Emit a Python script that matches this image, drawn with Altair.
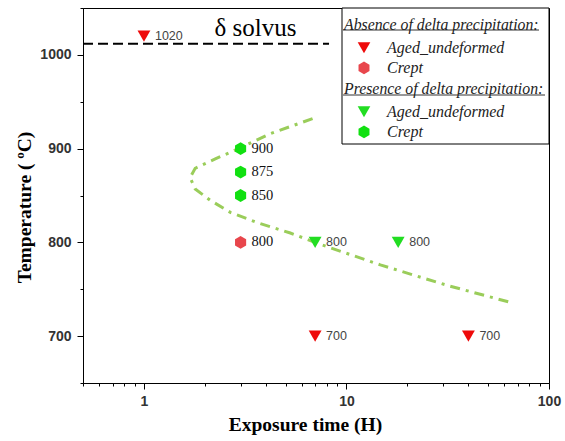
import altair as alt
import pandas as pd

# ---------------- data ----------------
types = ["Aged_undeformed", "Crept"]

# Absence of delta precipitation
abs_type = ["Aged_undeformed", "Aged_undeformed", "Aged_undeformed", "Crept"]
abs_time = [1, 7, 40, 3]
abs_temp = [1020, 700, 700, 800]

# Presence of delta precipitation
pre_type = ["Aged_undeformed", "Aged_undeformed", "Crept", "Crept", "Crept"]
pre_time = [7, 18, 3, 3, 3]
pre_temp = [800, 800, 900, 875, 850]

# C-curve (dash-dot green)
curve_time = [6.8, 4.2, 3.0, 2.25, 1.79, 1.69, 1.79, 2.12, 2.67, 3.63, 5.28, 7.18, 14.7, 31.6, 67]
curve_temp = [932, 916, 901, 889, 879, 869, 857, 845, 832, 821, 810, 799, 776, 754, 735]

# delta solvus line
solvus_time = [0.5, 8.2]
solvus_temp = [1012, 1012]
solvus_label = ["δ solvus"]
solvus_label_time = [3.55]
solvus_label_temp = [1020]

x_ticks = [0.5, 0.6, 0.7, 0.8, 0.9, 1, 2, 3, 4, 5, 6, 7, 8, 9, 10,
           20, 30, 40, 50, 60, 70, 80, 90, 100]
y_ticks = [650, 700, 750, 800, 850, 900, 950, 1000, 1050]

hexagon = "M0,-1L0.866,-0.5L0.866,0.5L0,1L-0.866,0.5L-0.866,-0.5Z"

# ---------------- frames ----------------
dfA = pd.DataFrame({"time": abs_time, "temp": abs_temp, "type": abs_type})
dfB = pd.DataFrame({"time": pre_time, "temp": pre_temp, "type": pre_type})
dfAll = pd.concat([dfA, dfB], ignore_index=True)
dfCurve = pd.DataFrame({"time": curve_time, "temp": curve_temp, "idx": list(range(len(curve_time)))})
dfSolvus = pd.DataFrame({"time": solvus_time, "temp": solvus_temp})
dfSolvusLabel = pd.DataFrame({"time": solvus_label_time, "temp": solvus_label_temp, "label": solvus_label})

xscale = alt.Scale(type="log", domain=[0.5, 100], nice=False)
yscale = alt.Scale(domain=[650, 1050], nice=False, zero=False)

xaxis = alt.Axis(
    values=x_ticks,
    labelExpr="datum.value == 1 ? '1' : datum.value == 10 ? '10' : datum.value == 100 ? '100' : ''",
    tickSize={"condition": {"test": "datum.value == 1 || datum.value == 10 || datum.value == 100", "value": 6}, "value": 3},
    title="Exposure time (H)", titleFont="Liberation Serif", titleFontSize=19.5, titleFontWeight="bold",
    titleColor="black", titlePadding=7, titleX=222,
    labelFont="Liberation Sans", labelFontSize=14, labelFontWeight="bold", labelColor="#333333",
    labelPadding=5, labelFlush=False, labelOverlap=False,
    grid=False, domainColor="black", tickColor="black",
)
yaxis = alt.Axis(
    values=y_ticks,
    labelExpr="datum.value % 100 == 0 ? format(datum.value, 'd') : ''",
    tickSize={"condition": {"test": "datum.value % 100 == 0", "value": 6}, "value": 3},
    title="Temperature ( ºC)", titleFont="Liberation Serif", titleFontSize=19.5, titleFontWeight="bold",
    titleColor="black", titlePadding=5, titleY=199,
    labelFont="Liberation Sans", labelFontSize=14, labelFontWeight="bold", labelColor="#333333",
    labelPadding=6, labelFlush=False, labelOverlap=False,
    grid=False, domainColor="black", tickColor="black",
)

X = lambda: alt.X("time:Q", scale=xscale, axis=xaxis)
Y = lambda: alt.Y("temp:Q", scale=yscale, axis=yaxis)

solvus = alt.Chart(dfSolvus).mark_line(color="black", strokeWidth=2, strokeDash=[10, 5]).encode(
    x=X(), y=Y()
)

solvus_text = alt.Chart(dfSolvusLabel).mark_text(
    font="Liberation Serif", fontSize=25, color="black", align="center", baseline="alphabetic"
).encode(x=X(), y=Y(), text="label:N")

curve = alt.Chart(dfCurve).mark_line(color="#9acd5a", strokeWidth=3, strokeDash=[10, 6, 3, 6]).encode(
    x=X(), y=Y(), order=alt.Order("idx:Q")
)


def legend(title, ly):
    return alt.Legend(
        title=title, orient="none", legendX=261, legendY=ly, padding=0,
        titleFont="Liberation Serif", titleFontSize=15.8, titleFontStyle="italic", titleFontWeight="normal",
        titleColor="#222222", titlePadding=6, titleLimit=400, labelLimit=300,
        labelFont="Liberation Serif", labelFontSize=16, labelFontStyle="italic", labelColor="#222222",
        labelOffset=15, symbolOffset=12, symbolSize=160, symbolStrokeWidth=0, symbolOpacity=1,
        rowPadding=4,
    )


legA = legend("Absence of delta precipitation:", 10)
legB = legend("Presence of delta precipitation:", 74)

ptsA = alt.Chart(dfA).mark_point(filled=True, opacity=1, size=165, strokeWidth=0).encode(
    x=X(), y=Y(),
    shape=alt.Shape("type:N", scale=alt.Scale(domain=types, range=["triangle-down", hexagon]), legend=legA),
    color=alt.Color("type:N", scale=alt.Scale(domain=types, range=["#ee0a0a", "#e8464c"]), legend=legA),
)
ptsB = alt.Chart(dfB).mark_point(filled=True, opacity=1, size=165, strokeWidth=0).encode(
    x=X(), y=Y(),
    shape=alt.Shape("type:N", scale=alt.Scale(domain=types, range=["triangle-down", hexagon]), legend=legB),
    color=alt.Color("type:N", scale=alt.Scale(domain=types, range=["#22dd22", "#11e011"]), legend=legB),
)

lbl_sans = alt.Chart(dfAll).transform_filter("datum.type == 'Aged_undeformed'").mark_text(
    align="left", baseline="middle", dx=11, font="Liberation Sans", fontSize=12.5, color="#444444"
).encode(x=X(), y=Y(), text="temp:Q")

lbl_serif = alt.Chart(dfAll).transform_filter("datum.type == 'Crept'").mark_text(
    align="left", baseline="middle", dx=11, font="Liberation Serif", fontSize=14.5, color="#111111"
).encode(x=X(), y=Y(), text="temp:Q")

one = pd.DataFrame({"a": [0]})
box = alt.Chart(one).mark_rect(fill="white", stroke="black", strokeWidth=1).encode(
    x=alt.value(259), x2=alt.value(466), y=alt.value(0), y2=alt.value(136)
)
ul1 = alt.Chart(one).mark_rule(color="#333333", strokeWidth=1).encode(
    x=alt.value(260), x2=alt.value(456), y=alt.value(22)
)
ul2 = alt.Chart(one).mark_rule(color="#333333", strokeWidth=1).encode(
    x=alt.value(260), x2=alt.value(462), y=alt.value(87)
)

chart = alt.layer(
    solvus, solvus_text, curve, ptsA, ptsB, lbl_sans, lbl_serif, box, ul1, ul2
).resolve_scale(
    color="independent", shape="independent"
).properties(
    width=466, height=375,
    padding={"left": 83, "top": 8, "right": 16, "bottom": 58},
    autosize=alt.AutoSizeParams(type="none"),
    background="white",
).configure_view(stroke="black", strokeWidth=1)

chart.save("out.html", embed_options={"renderer": "svg", "actions": False})
